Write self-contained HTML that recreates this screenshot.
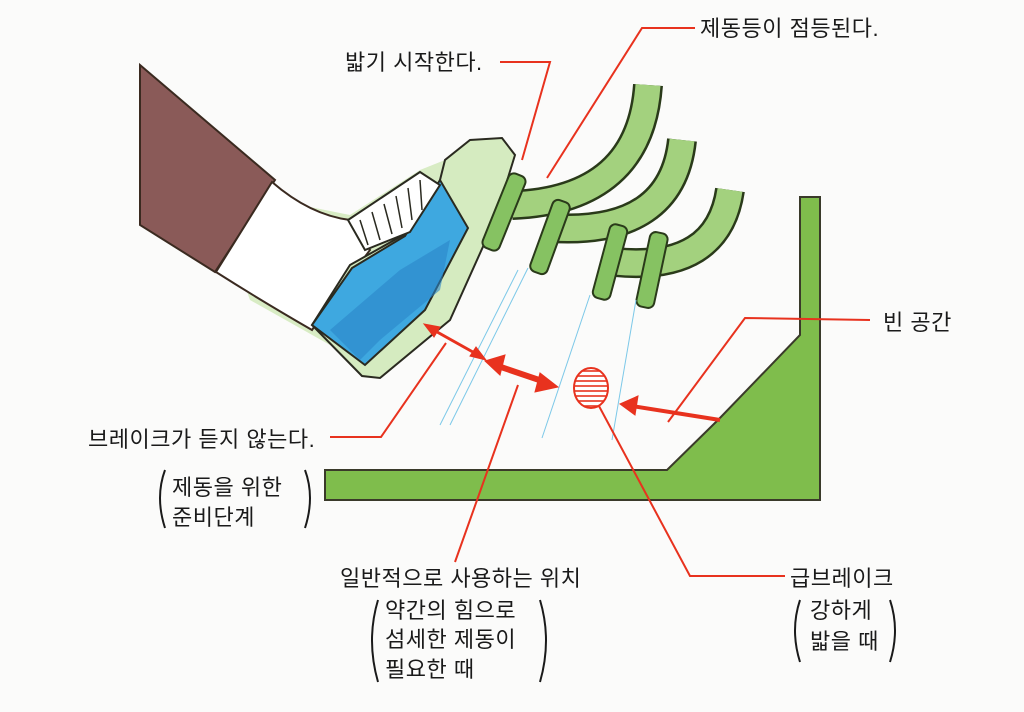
<!DOCTYPE html>
<html><head><meta charset="utf-8"><style>
html,body{margin:0;padding:0;background:#fbfbfa;}
svg{display:block}
text{font-family:"Liberation Sans","Noto Sans CJK KR",sans-serif;font-size:22px;letter-spacing:0.5px;fill:#1a1a1a}
</style></head><body>
<svg width="1024" height="712" viewBox="0 0 1024 712" xmlns="http://www.w3.org/2000/svg">
<defs>
<pattern id="h" width="6" height="5" patternUnits="userSpaceOnUse"><rect width="6" height="5" fill="#fff"/><line x1="0" y1="1" x2="6" y2="1" stroke="#e8321e" stroke-width="1.6"/></pattern>
</defs>
<path d="M325,470 L667,470 L718,420 L800,335 L800,197 L820,197 L820,500 L325,500 Z" fill="#7fbd4c" stroke="#3a3a2a" stroke-width="2"/>
<path d="M230,245 Q240,200 300,205 L350,215 L420,170 L470,150 L500,150 L470,240 L410,330 L330,345 L250,300 Z" fill="#d8ecc4"/>
<path d="M140,65 L275,180 L215,272 L140,225 Z" fill="#8a5a58" stroke="#3a2a20" stroke-width="2"/>
<path d="M272,182 Q310,215 350,220 L370,250 L340,290 L312,330 Q260,300 216,272 Z" fill="#fff" stroke="#3a2a20" stroke-width="2"/>
<path d="M312,325 L350,265 L430,220 L445,160 L470,140 L502,138 L515,155 L495,220 L450,320 L380,378 L362,376 Z" fill="#d5ebc0" stroke="#2a2a20" stroke-width="2"/>
<path d="M312,325 L352,268 L405,236 L420,212 L440,180 L468,228 L425,310 L365,365 Z" fill="#3ea8e0" stroke="#2a2a20" stroke-width="2"/>
<path d="M330,330 L400,270 L450,240 L440,290 L380,340 L360,360 Z" fill="#2c86c8" opacity="0.6"/>
<path d="M348,220 L420,172 L440,185 L410,232 L365,250 Z" fill="#fff" stroke="#2a2a20" stroke-width="2"/>
<g stroke="#2a2a20" stroke-width="1.5">
<line x1="360" y1="220" x2="368" y2="245"/><line x1="372" y1="212" x2="380" y2="240"/><line x1="384" y1="204" x2="392" y2="234"/><line x1="396" y1="196" x2="402" y2="228"/><line x1="408" y1="188" x2="412" y2="220"/><line x1="420" y1="180" x2="422" y2="210"/>
</g>
<g fill="none" stroke-linecap="butt">
<path d="M648,85 Q640,200 512,205" stroke="#2a3a1a" stroke-width="30"/>
<path d="M648,85 Q640,200 512,205" stroke="#a3d17e" stroke-width="25"/>
<path d="M682,140 Q672,235 552,228" stroke="#2a3a1a" stroke-width="30"/>
<path d="M682,140 Q672,235 552,228" stroke="#a3d17e" stroke-width="25"/>
<path d="M730,190 Q718,272 615,262" stroke="#2a3a1a" stroke-width="30"/>
<path d="M730,190 Q718,272 615,262" stroke="#a3d17e" stroke-width="25"/>
</g>
<g fill="#86c262" stroke="#2a3a1a" stroke-width="2">
<rect x="-9" y="-40" width="18" height="80" rx="6" transform="translate(504,212) rotate(22)"/>
<rect x="-9" y="-38" width="18" height="76" rx="6" transform="translate(550,237) rotate(20)"/>
<rect x="-9" y="-38" width="18" height="76" rx="6" transform="translate(610,262) rotate(15)"/>
<rect x="-9" y="-38" width="18" height="76" rx="6" transform="translate(652,270) rotate(12)"/>
</g>
<g stroke="#7cc8e8" stroke-width="1">
<line x1="528" y1="268" x2="450" y2="425"/><line x1="518" y1="270" x2="440" y2="425"/>
<line x1="590" y1="295" x2="542" y2="438"/>
<line x1="636" y1="300" x2="612" y2="440"/>
</g>
<g stroke="#e8321e" stroke-width="2" fill="none">
<polyline points="695,28 642,28 547,178"/>
<polyline points="500,62 550,62 522,160"/>
<polyline points="870,320 745,318 668,422"/>
<polyline points="330,437 381,437 446,343"/>
<polyline points="455,562 518,385"/>
<polyline points="785,576 690,576 592,393"/>
</g>
<g fill="#e8321e" stroke="#e8321e">
<line x1="430" y1="328" x2="480" y2="356" stroke-width="3"/>
<polygon points="424,324 440,327 434,337"/><polygon points="486,360 470,356 476,347"/>
<line x1="498" y1="366" x2="545" y2="382" stroke-width="6"/>
<polygon points="485,361 505,355 500,375"/><polygon points="558,387 540,373 535,392"/>
<line x1="720" y1="420" x2="632" y2="406" stroke-width="4"/>
<polygon points="620,404 638,396 635,415"/>
</g>
<ellipse cx="591" cy="388" rx="17" ry="20" fill="url(#h)" stroke="#e8321e" stroke-width="2"/>
<text x="700" y="36">제동등이 점등된다.</text>
<text x="345" y="70">밟기 시작한다.</text>
<text x="883" y="330">빈 공간</text>
<text x="88" y="447">브레이크가 듣지 않는다.</text>
<text x="172" y="495">제동을 위한</text>
<text x="172" y="525">준비단계</text>
<text x="340" y="586">일반적으로 사용하는 위치</text>
<text x="385" y="618">약간의 힘으로</text>
<text x="385" y="647">섬세한 제동이</text>
<text x="385" y="677">필요한 때</text>
<text x="790" y="586">급브레이크</text>
<text x="810" y="618">강하게</text>
<text x="810" y="649">밟을 때</text>
<g fill="none" stroke="#1a1a1a" stroke-width="2">
<path d="M165,470 Q155,497 165,528"/><path d="M305,470 Q315,497 305,528"/>
<path d="M378,600 Q366,640 378,682"/><path d="M540,600 Q552,640 540,682"/>
<path d="M800,600 Q790,630 800,662"/><path d="M890,600 Q900,630 890,662"/>
</g>
</svg>
</body></html>
